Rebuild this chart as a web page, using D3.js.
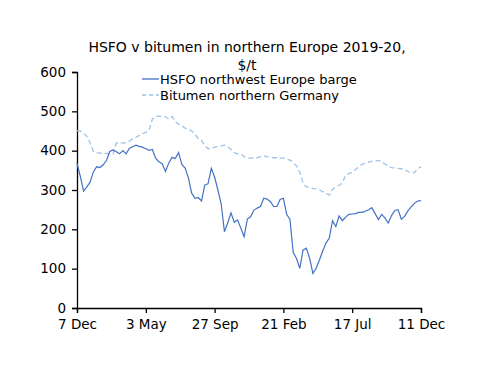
<!DOCTYPE html>
<html>
<head>
<meta charset="utf-8">
<script src="https://cdn.jsdelivr.net/npm/d3@7"></script>
<style>
  body { margin: 0; background: #fff; }
  svg { display: block; font-family: "DejaVu Sans", sans-serif; }
</style>
</head>
<body>
<svg id="chart" width="500" height="386"></svg>
<script>
// weekly prices, $/t, from 7 Dec 2018 to 11 Dec 2020
const startDate = "2018-12-07";
const hsfo = [
  368, 335, 297, 308, 320, 346, 359, 357, 364, 375,
  398, 402, 397, 392, 400, 392, 406, 410, 414, 411,
  409, 405, 401, 403, 381, 372, 367, 347, 368, 383,
  380, 395, 365, 356, 331, 292, 279, 281, 272, 312,
  316, 355, 333, 300, 265, 194, 216, 242, 218, 224,
  203, 181, 226, 232, 249, 254, 258, 279, 277, 271,
  258, 258, 276, 279, 238, 225, 141, 126, 101, 147,
  152, 127, 88, 101, 122, 145, 165, 178, 222, 207,
  234, 222, 231, 238, 239, 240, 243, 243, 246, 250,
  255, 240, 225, 238, 229, 216, 235, 248, 250, 226,
  233, 247, 257, 266, 272, 273
];
const bitumen = [
  451, 450, 446, 436, 420, 398, 395, 394, 393, 393,
  392, 392, 419, 420, 419, 421, 424, 430, 434, 439,
  443, 447, 452, 480, 487, 488, 487, 486, 480, 487,
  474, 467, 463, 457, 455, 450, 443, 430, 426, 413,
  405, 406, 409, 411, 412, 414, 410, 403, 395, 392,
  391, 385, 381, 381, 382, 382, 385, 387, 385, 384,
  382, 382, 381, 381, 379, 376, 370, 361, 345, 318,
  308, 306, 304, 303, 300, 296, 292, 287, 302, 308,
  312, 318, 338, 342, 345, 352, 359, 365, 368, 371,
  373, 374, 375, 371, 366, 360, 357, 356, 355, 354,
  352, 347, 344, 344, 355, 359
];
const tickDates = ["2018-12-07", "2019-05-03", "2019-09-27", "2020-02-21", "2020-07-17", "2020-12-11"];
const tickLabels = ["7 Dec", "3 May", "27 Sep", "21 Feb", "17 Jul", "11 Dec"];
const yTicks = [0, 100, 200, 300, 400, 500, 600];
const seriesNames = ["HSFO northwest Europe barge", "Bitumen northern Germany"];

const parse = d3.timeParse("%Y-%m-%d");
const t0 = parse(startDate);
const dates = hsfo.map((d, i) => d3.timeDay.offset(t0, 7 * i));

const svg = d3.select("#chart");
const margin = { left: 77, right: 79, top: 72, bottom: 78 };
const width = 500 - margin.left - margin.right;
const height = 386 - margin.top - margin.bottom;

const x = d3.scaleTime()
  .domain([parse(tickDates[0]), parse(tickDates[tickDates.length - 1])])
  .range([0, width]);
const y = d3.scaleLinear().domain([0, 600]).range([height, 0]);

const g = svg.append("g")
  .attr("transform", "translate(" + margin.left + "," + margin.top + ")");

// axes
const xAxis = g.append("g")
  .attr("transform", "translate(0," + height + ")")
  .call(d3.axisBottom(x)
    .tickValues(tickDates.map(parse))
    .tickFormat((d, i) => tickLabels[i])
    .tickSize(5)
    .tickPadding(6));

const yAxis = g.append("g")
  .call(d3.axisLeft(y).tickValues(yTicks).tickSize(5).tickPadding(6));

[xAxis, yAxis].forEach(a => {
  a.select(".domain").attr("stroke", "#000").attr("stroke-width", 1.3);
  a.selectAll(".tick line").attr("stroke", "#000").attr("stroke-width", 1.3);
  a.selectAll("text")
    .attr("fill", "#000")
    .style("font-size", "13.5px")
    .style("font-family", "DejaVu Sans, sans-serif");
});

// lines
const line = d3.line()
  .x((d, i) => x(dates[i]))
  .y(d => y(d));

g.append("path")
  .datum(bitumen)
  .attr("fill", "none")
  .attr("stroke", "#9dc3e6")
  .attr("stroke-width", 1.3)
  .attr("stroke-dasharray", "5,3")
  .attr("d", line);

g.append("path")
  .datum(hsfo)
  .attr("fill", "none")
  .attr("stroke", "#4472c4")
  .attr("stroke-width", 1.2)
  .attr("d", line);

// title
svg.append("text")
  .attr("x", 247).attr("y", 52)
  .attr("text-anchor", "middle")
  .style("font-size", "14px")
  .text("HSFO v bitumen in northern Europe 2019-20,");
svg.append("text")
  .attr("x", 247).attr("y", 70)
  .attr("text-anchor", "middle")
  .style("font-size", "14px")
  .text("$/t");

// legend
const legend = svg.append("g").attr("transform", "translate(142,79)");
const styles = [
  { stroke: "#4472c4", dash: null },
  { stroke: "#9dc3e6", dash: "4,3" }
];
seriesNames.forEach((name, i) => {
  const row = legend.append("g").attr("transform", "translate(0," + i * 16 + ")");
  row.append("line")
    .attr("x1", 0).attr("x2", 17)
    .attr("stroke", styles[i].stroke)
    .attr("stroke-width", 1.3)
    .attr("stroke-dasharray", styles[i].dash);
  row.append("text")
    .attr("x", 18).attr("dy", "0.35em")
    .style("font-size", "13px")
    .text(name);
});
</script>
</body>
</html>
